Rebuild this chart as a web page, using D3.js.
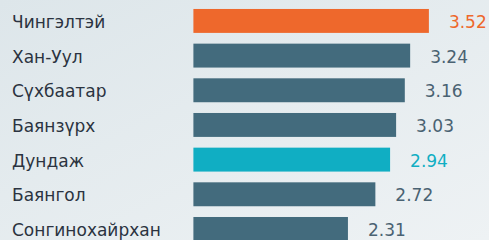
<!DOCTYPE html>
<html>
<head>
<meta charset="utf-8">
<script src="https://cdn.jsdelivr.net/npm/d3@7"></script>
<style>
  html, body { margin: 0; padding: 0; }
  body { width: 489px; height: 240px; overflow: hidden; }
</style>
</head>
<body>
<svg id="chart" width="489" height="240"></svg>
<script>
const categories = ["Чингэлтэй", "Хан-Уул", "Сүхбаатар", "Баянзүрх", "Дундаж", "Баянгол", "Сонгинохайрхан"];
const values = [3.52, 3.24, 3.16, 3.03, 2.94, 2.72, 2.31];
const valueLabels = ["3.52", "3.24", "3.16", "3.03", "2.94", "2.72", "2.31"];
const highlight = ["top", "normal", "normal", "normal", "avg", "normal", "normal"];

const barColor = { top: "#ee682c", normal: "#436b7d", avg: "#10aec3" };
const labelColor = { top: "#ee682c", normal: "#4a6272", avg: "#10aec3" };

const svg = d3.select("#chart");
const defs = svg.append("defs");
const grad = defs.append("linearGradient").attr("id", "bg")
  .attr("x1", "0").attr("y1", "0").attr("x2", "1").attr("y2", "1");
grad.append("stop").attr("offset", "0").attr("stop-color", "#dde6ea");
grad.append("stop").attr("offset", "1").attr("stop-color", "#eef2f4");
svg.append("rect").attr("width", 489).attr("height", 240).attr("fill", "url(#bg)");

const y = d3.scaleBand().domain(categories).range([3.6, 3.6 + 7 * 34.67])
  .paddingInner(0.31).paddingOuter(0.155);
const x = d3.scaleLinear().domain([0, 4]).range([193.4, 193.4 + 4 * 66.9]);

const rows = svg.append("g").selectAll("g").data(categories).join("g");

rows.append("rect")
  .attr("x", x(0))
  .attr("y", d => y(d))
  .attr("width", (d, i) => x(values[i]) - x(0))
  .attr("height", y.bandwidth())
  .attr("fill", (d, i) => barColor[highlight[i]]);

rows.append("text")
  .attr("x", 12)
  .attr("y", d => y(d) + y.bandwidth() / 2 + 7)
  .attr("font-family", "'DejaVu Sans', sans-serif")
  .attr("font-size", 17)
  .attr("fill", "#2b3340")
  .text(d => d);

rows.append("text")
  .attr("x", (d, i) => x(values[i]) + 20)
  .attr("y", d => y(d) + y.bandwidth() / 2 + 7)
  .attr("font-family", "'DejaVu Sans', sans-serif")
  .attr("font-size", 17)
  .attr("fill", (d, i) => labelColor[highlight[i]])
  .text((d, i) => valueLabels[i]);
</script>
</body>
</html>
